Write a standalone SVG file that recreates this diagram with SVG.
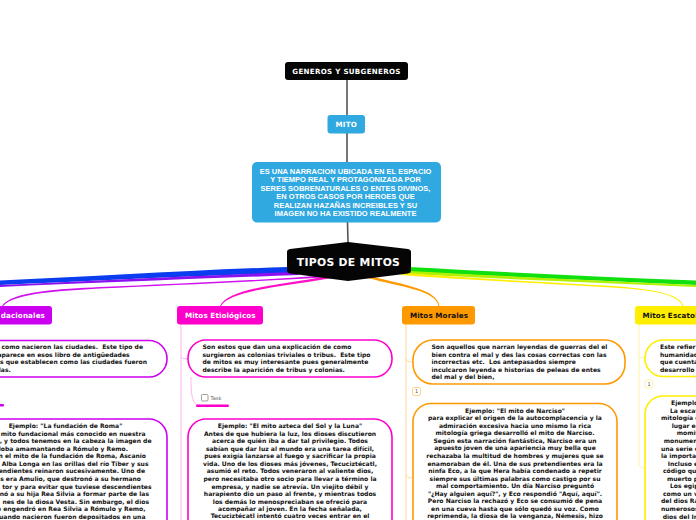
<svg xmlns="http://www.w3.org/2000/svg" width="696" height="520" viewBox="0 0 696 520">
<style>
text{font-family:"DejaVu Sans","Liberation Sans",sans-serif;font-weight:700;white-space:pre}
.b{font-size:6.05px;fill:#111}
.c{text-anchor:middle}
.e{text-anchor:end}
.t{font-size:7.2px;letter-spacing:.1px}
.w{fill:#fff}
.d{font-family:"Liberation Sans",Arial,sans-serif;font-size:7.5px}
.box{fill:#fff;stroke-width:1.6}
.spine{fill:none;stroke-width:1}
.badge{fill:#fff;stroke-width:1}
.n{font-size:5px;font-weight:400;fill:#555}
</style>
<rect width="696" height="520" fill="#fff"/>
<g id="connectors">
<path d="M347 80V115M347 133V162M347.500 222L348 243" fill="none" stroke="#555" stroke-width="1.600"/>
<path d="M288 267C190 270 90 277 0 280.500V285C90 281 190 276 290 273Z" fill="#0a3cf0"/>
<path d="M292 272C190 276 90 281 0 285V287C90 283 190 279 300 275Z" fill="#8a10f0"/>
<path d="M330 275C250 281 170 284 100 287C60 289 12 291 2 306H3.200C14 293 60 291 100 288.500C170 285 250 282 332 277Z" fill="#d010ee"/>
<path d="M328 276C280 285 228 288 220 306H221C230 290 282 287 332 278Z" fill="#ff10c8"/>
<path d="M368 278C400 287 436 290 438.500 306H439.500C437 289 404 285 374 277Z" fill="#ff9900"/>
<path d="M409 267C500 272 600 277 696 280.500V285C600 281 500 276 411 272Z" fill="#10e010"/>
<path d="M409 271C500 276 600 281 696 285V287C600 283 500 279 409 274Z" fill="#b0f000"/>
<path d="M400 275C480 281 560 284 620 288C650 290 678 294 682.500 306H683.500C680 293 650 289.500 620 286.500C560 283 480 279 405 273Z" fill="#ffee00"/>
<g class="spine" stroke="#ffb5ee">
<path d="M181 324V520M181 357Q182 359 188 359"/>
<path d="M191 377C191 395 192 405 200 405"/>
</g>
<g class="spine" stroke="#ffd99a"><path d="M406 324V520M406 358Q406 362 413 362M406 474Q406 478 413 478"/></g>
<g class="spine" stroke="#fff3a0"><path d="M639 324V464Q639 468 645 468M639 356Q640 358 645 358"/></g>
</g>
<g id="n-generos"><rect x="285" y="62" width="123" height="18" rx="3" fill="#050505"/><text class="w c" x="346.500" y="73.600" font-size="7.100" letter-spacing=".3">GENEROS Y SUBGENEROS</text></g>
<g id="n-mito"><rect x="327.500" y="115" width="37.500" height="18.500" rx="3" fill="#30a8e0"/><text class="w c" x="346.300" y="126.800" font-size="7.100" letter-spacing=".3">MITO</text></g>
<g id="n-desc"><rect x="252" y="162" width="189" height="60.500" rx="5" fill="#30a8e0"/>
<text class="w c d" x="345.500" y="174">ES UNA NARRACION UBICADA EN EL ESPACIO</text>
<text class="w c d" x="345.500" y="182.300">Y TIEMPO REAL Y PROTAGONIZADA POR</text>
<text class="w c d" x="345.500" y="191">SERES SOBRENATURALES O ENTES DIVINOS,</text>
<text class="w c d" x="345.500" y="199.300">EN OTROS CASOS POR HEROES QUE</text>
<text class="w c d" x="345.500" y="208">REALIZAN HAZAÑAS INCREIBLES Y SU</text>
<text class="w c d" x="345.500" y="216.300">IMAGEN NO HA EXISTIDO REALMENTE</text>
</g>
<g id="n-tipos"><path d="M348 242L408 249Q411 249.500 411 252V270Q411 273 408 273.500L348 281L290 273.500Q287 273 287 270V252Q287 249.500 290 249Z" fill="#050505"/><text class="w c" x="348.500" y="265.700" font-size="10.800" letter-spacing=".3">TIPOS DE MITOS</text></g>

<g id="n-fund"><rect x="-40" y="306" width="92" height="18.500" rx="3" fill="#cc00f0"/><text class="w e t" x="45" y="318">dacionales</text></g>
<g id="n-fund-desc"><rect x="-40" y="340.500" width="207" height="36.500" rx="18" class="box" stroke="#cc00f0"/>
<g class="b">
<text class="e" x="143" y="349">n como nacieron las ciudades.  Este tipo de</text>
<text class="e" x="129.600" y="356.500">aparece en esos libro de antigüedades</text>
<text class="e" x="147" y="364">us que establecen como las ciudades fueron</text>
<text class="e" x="10.800" y="371.500">las.</text></g></g>
<rect x="-2" y="404" width="6" height="2.500" rx="1.200" fill="#cc00f0"/>
<g id="n-fund-ej"><rect x="-40" y="419" width="207" height="130" rx="18" class="box" stroke="#cc00f0"/>
<g class="b">
<text class="c" x="65.500" y="428">Ejemplo: "La fundación de Roma"</text>
<text class="e" x="145.500" y="435.600">mito fundacional más conocido en nuestra</text>
<text class="e" x="151.500" y="443.200">, y todos tenemos en la cabeza la imagen de</text>
<text class="e" x="128" y="450.700">a loba amamantando a Rómulo y Remo.</text>
<text class="e" x="146" y="458.300">n el mito de la fundación de Roma, Ascanio</text>
<text class="e" x="148.500" y="465.900">Alba Longa en las orillas del río Tíber y sus</text>
<text class="e" x="145" y="473.400">endientes reinaron sucesivamente. Uno de</text>
<text class="e" x="141" y="481">es era Amulio, que destronó a su hermano</text>
<text class="e" x="151.500" y="488.600">tor y para evitar que tuviese descendientes</text>
<text class="e" x="149" y="496.100">nó a su hija Rea Silvia a formar parte de las</text>
<text class="e" x="149" y="503.700">nes de la diosa Vesta. Sin embargo, el dios</text>
<text class="e" x="145.500" y="511.300">e engendró en Rea Silvia a Rómulo y Remo,</text>
<text class="e" x="145.500" y="518.800">cuando nacieron fueron depositados en una</text>
</g></g>

<g id="n-etio"><rect x="177" y="306" width="86" height="18.500" rx="3" fill="#ff00cc"/><text class="w t" x="185" y="318">Mitos Etiológicos</text></g>
<g id="n-etio-desc"><rect x="188" y="340" width="204" height="37" rx="18" class="box" stroke="#ff00cc"/>
<g class="b">
<text x="202.500" y="349">Son estos que dan una explicación de como</text>
<text x="202.500" y="357">surgieron as colonias triviales o tribus.  Este tipo</text>
<text x="202.500" y="364">de mitos es muy interesante pues generalmente</text>
<text x="202.500" y="372">describe la aparición de tribus y colonias.</text></g></g>
<g id="n-task"><rect x="201.500" y="394.500" width="6.500" height="6.500" rx="1" fill="#fff" stroke="#777" stroke-width=".7"/><text class="n" x="210.500" y="400">Task</text><rect x="196" y="404.500" width="33" height="2.500" rx="1.200" fill="#ff00cc"/></g>
<g id="n-etio-ej"><rect x="188" y="419" width="204" height="130" rx="18" class="box" stroke="#ff00cc"/>
<g class="b">
<text class="c" x="290" y="428">Ejemplo: "El mito azteca del Sol y la Luna"</text>
<text class="c" x="290" y="435.700">Antes de que hubiera la luz, los dioses discutieron</text>
<text class="c" x="290" y="443.200">acerca de quién iba a dar tal privilegio. Todos</text>
<text class="c" x="290" y="450.800">sabían que dar luz al mundo era una tarea difícil,</text>
<text class="c" x="290" y="458.300">pues exigía lanzarse al fuego y sacrificar la propia</text>
<text class="c" x="290" y="465.900">vida. Uno de los dioses más jóvenes, Tecuciztécatl,</text>
<text class="c" x="290" y="473.400">asumió el reto. Todos veneraron al valiente dios,</text>
<text class="c" x="290" y="481">pero necesitaba otro socio para llevar a término la</text>
<text class="c" x="290" y="488.500">empresa, y nadie se atrevía. Un viejito débil y</text>
<text class="c" x="290" y="496.100">harapiento dio un paso al frente, y mientras todos</text>
<text class="c" x="290" y="503.600">los demás lo menospreciaban se ofreció para</text>
<text class="c" x="290" y="511.100">acompañar al joven. En la fecha señalada,</text>
<text class="c" x="290" y="518.200">Tecuciztécatl intentó cuatro veces entrar en el</text>
</g></g>

<g id="n-mora"><rect x="402" y="306" width="73" height="18.500" rx="3" fill="#ff9900"/><text class="t" x="410" y="318" fill="#111">Mitos Morales</text></g>
<g id="n-mora-desc"><rect x="413" y="340" width="212" height="44" rx="20" class="box" stroke="#ff9900"/>
<g class="b">
<text x="431.500" y="349">Son aquellos que narran leyendas de guerras del el</text>
<text x="431.500" y="357">bien contra el mal y des las cosas correctas con las</text>
<text x="431.500" y="364">incorrectas etc.  Los antepasados siempre</text>
<text x="431.500" y="372">inculcaron leyenda e historias de peleas de entes</text>
<text x="431.500" y="379">del mal y del bien,</text></g></g>
<g id="n-mora-badge"><rect x="412.500" y="387.500" width="8" height="8" rx="2" class="badge" stroke="#ffcf80"/><text class="n c" x="416.500" y="393.300">1</text></g>
<g id="n-mora-ej"><rect x="413" y="403.500" width="204" height="145" rx="18" class="box" stroke="#ff9900"/>
<g class="b">
<text class="c" x="515" y="412.800">Ejemplo: "El mito de Narciso"</text>
<text class="c" x="515" y="420.300">para explicar el origen de la autocomplacencia y la</text>
<text class="c" x="515" y="427.900">admiración excesiva hacia uno mismo la rica</text>
<text class="c" x="515" y="435.400">mitología griega desarrolló el mito de Narciso.</text>
<text class="c" x="515" y="442.900">Según esta narración fantástica, Narciso era un</text>
<text class="c" x="515" y="450.400">apuesto joven de una apariencia muy bella que</text>
<text class="c" x="515" y="458">rechazaba la multitud de hombres y mujeres que se</text>
<text class="c" x="515" y="465.500">enamoraban de él. Una de sus pretendientes era la</text>
<text class="c" x="515" y="473">ninfa Eco, a la que Hera había condenado a repetir</text>
<text class="c" x="515" y="480.500">siempre sus últimas palabras como castigo por su</text>
<text class="c" x="515" y="488.100">mal comportamiento. Un día Narciso preguntó</text>
<text class="c" x="515" y="495.600">"¿Hay alguien aquí?", y Eco respondió "Aquí, aquí".</text>
<text class="c" x="515" y="503.100">Pero Narciso la rechazó y Eco se consumió de pena</text>
<text class="c" x="515" y="510.600">en una cueva hasta que sólo quedó su voz. Como</text>
<text class="c" x="515" y="518.200">reprimenda, la diosa de la venganza, Némesis, hizo</text>
</g></g>

<g id="n-esca"><rect x="635" y="306" width="100" height="18.500" rx="3" fill="#ffee00"/><text class="t" x="642.500" y="318" fill="#111">Mitos Escatol</text></g>
<g id="n-esca-desc"><rect x="645" y="340" width="120" height="36.500" rx="18" class="box" stroke="#ffee00"/>
<g class="b">
<text x="660" y="349">Este refier</text>
<text x="660" y="356.500">humanidad</text>
<text x="660" y="364">que cuenta</text>
<text x="660" y="371.500">desarrollo</text></g></g>
<g id="n-esca-badge"><rect x="645" y="380" width="8" height="8" rx="2" class="badge" stroke="#fff3a0"/><text class="n c" x="649" y="385.800">1</text></g>
<g id="n-esca-ej"><rect x="645" y="396" width="120" height="150" rx="18" class="box" stroke="#ffee00"/>
<g class="b">
<text x="671" y="405.200">Ejemplo</text>
<text x="670" y="412.800">La escat</text>
<text x="661" y="420.300">mitología e</text>
<text x="671.700" y="427.900">lugar en</text>
<text x="676.700" y="435.400">momif</text>
<text x="663.700" y="443">monumen</text>
<text x="661" y="450.500">una serie d</text>
<text x="661" y="458">la importa</text>
<text x="667.700" y="465.600">Incluso e</text>
<text x="663" y="473.100">código qu</text>
<text x="667" y="480.700">muerto p</text>
<text x="670" y="488.200">Los egip</text>
<text x="663" y="495.800">como un v</text>
<text x="661" y="503.300">del dios Ra</text>
<text x="661" y="510.900">numerosos</text>
<text x="662.700" y="518.500">dios del In</text>
</g></g>
</svg>
